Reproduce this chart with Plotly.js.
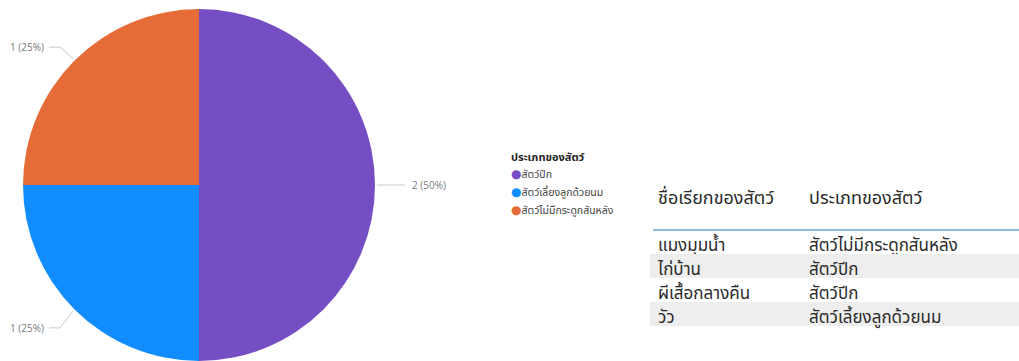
<!DOCTYPE html>
<html>
<head>
<meta charset="utf-8">
<script src="https://cdn.plot.ly/plotly-3.0.1.min.js"></script>
<style>
html,body{margin:0;padding:0;background:#fff;overflow:hidden;}
#chart{width:1019px;height:361px;}
</style>
</head>
<body>
<div id="chart"></div>
<script>
// ---- data ----
const categories = ["สัตว์ปีก", "สัตว์เลี้ยงลูกด้วยนม", "สัตว์ไม่มีกระดูกสันหลัง"];
const counts = [2, 1, 1];
const colors = ["#744EC2", "#118DFF", "#E66C37"];
const legendTitle = "ประเภทของสัตว์";
const tableHeader = ["ชื่อเรียกของสัตว์", "ประเภทของสัตว์"];
const animalNames = ["แมงมุมน้ำ", "ไก่บ้าน", "ผีเสื้อกลางคืน", "วัว"];
const animalTypes = ["สัตว์ไม่มีกระดูกสันหลัง", "สัตว์ปีก", "สัตว์ปีก", "สัตว์เลี้ยงลูกด้วยนม"];

// ---- layout geometry ----
const W = 1019, H = 361;
const cx = 199, cy = 185, R = 176;
const px = x => x / W;
const py = y => 1 - y / H;
const thai = "Tahoma, 'Leelawadee UI', 'Noto Sans Thai', 'Noto Sans', sans-serif";

const total = counts.reduce((a, b) => a + b, 0);
const shapes = [];
const annotations = [];
let cum = 0;
counts.forEach((v, i) => {
  const theta = 2 * Math.PI * (cum + v / 2) / total;
  cum += v;
  const sx = Math.sin(theta), cy0 = Math.cos(theta);
  const ex = cx + (R + 2) * sx, ey = cy - (R + 2) * cy0;
  const pct = Math.round(100 * v / total);
  const label = v + " (" + pct + "%)";
  let path, tx, anchor, ty;
  if (Math.abs(cy0) < 0.2) {
    const side = sx > 0 ? 1 : -1;
    const x2 = ex + side * 28;
    path = `M ${px(ex)} ${py(ey)} L ${px(x2)} ${py(ey)}`;
    tx = x2 + side * 5; ty = ey; anchor = side > 0 ? "left" : "right";
  } else {
    const side = sx > 0 ? 1 : -1;
    const dy = cy0 > 0 ? -12 : 17;
    const ex2 = ex + side * 13, ey2 = ey + dy;
    const x3 = ex2 + side * 11;
    path = `M ${px(ex)} ${py(ey)} L ${px(ex2)} ${py(ey2)} L ${px(x3)} ${py(ey2)}`;
    tx = x3 + side * 3; ty = ey2; anchor = side > 0 ? "left" : "right";
  }
  shapes.push({type: "path", xref: "paper", yref: "paper", path: path,
               line: {color: "#c8c8c8", width: 1}});
  annotations.push({xref: "paper", yref: "paper", x: px(tx), y: py(ty),
                    xanchor: anchor, yanchor: "middle", showarrow: false,
                    text: label, font: {family: "'Open Sans', sans-serif", size: 10, color: "#7a7a7a"}});
});

// legend (drawn as text)
const lgX = 509, lgY = 157, lgStep = 18;
annotations.push({xref: "paper", yref: "paper", x: px(lgX), y: py(lgY), xanchor: "left", yanchor: "middle",
                  showarrow: false, text: "<b>" + legendTitle + "</b>",
                  font: {family: thai, size: 11, color: "#252423"}});
categories.forEach((c, i) => {
  annotations.push({xref: "paper", yref: "paper", x: px(lgX), y: py(lgY + lgStep * (i + 1)),
                    xanchor: "left", yanchor: "middle", showarrow: false,
                    text: "<span style='color:" + colors[i] + ";font-size:12px;font-family:DejaVu Sans'>●</span>" + c,
                    font: {family: thai, size: 10.5, color: "#444444"}});
});

// header underline
const tblLeft = 650, headTop = 182, headH = 48, rowH = 24;
shapes.push({type: "line", xref: "paper", yref: "paper",
             x0: px(tblLeft + 3), x1: 1, y0: py(headTop + headH), y1: py(headTop + headH),
             line: {color: "#8fbbe2", width: 2}});

const rowFill = animalNames.map((_, i) => i % 2 === 0 ? "#ffffff" : "#eeeeee");

const data = [
  {
    type: "pie",
    labels: categories,
    values: counts,
    marker: {colors: colors, line: {width: 0}},
    sort: false,
    direction: "clockwise",
    rotation: 0,
    textinfo: "none",
    hoverinfo: "label+value+percent",
    showlegend: false,
    domain: {x: [px(cx - R), px(cx + R)], y: [py(cy + R), py(cy - R)]}
  },
  {
    type: "table",
    domain: {x: [px(tblLeft), 1], y: [0, py(headTop)]},
    columnwidth: [151, 218],
    header: {
      values: tableHeader,
      align: "left",
      height: headH,
      fill: {color: "#ffffff"},
      line: {width: 0, color: "rgba(0,0,0,0)"},
      font: {family: thai, size: 18, color: "#2a2a2a"}
    },
    cells: {
      values: [animalNames, animalTypes],
      align: "left",
      height: rowH,
      fill: {color: [rowFill, rowFill]},
      line: {width: 0, color: "rgba(0,0,0,0)"},
      font: {family: thai, size: 17, color: "#2a2a2a"}
    }
  }
];

const layout = {
  width: W, height: H,
  margin: {l: 0, r: 0, t: 0, b: 0},
  paper_bgcolor: "#ffffff",
  showlegend: false,
  shapes: shapes,
  annotations: annotations
};

Plotly.newPlot("chart", data, layout, {displayModeBar: false, staticPlot: true});
</script>
</body>
</html>
